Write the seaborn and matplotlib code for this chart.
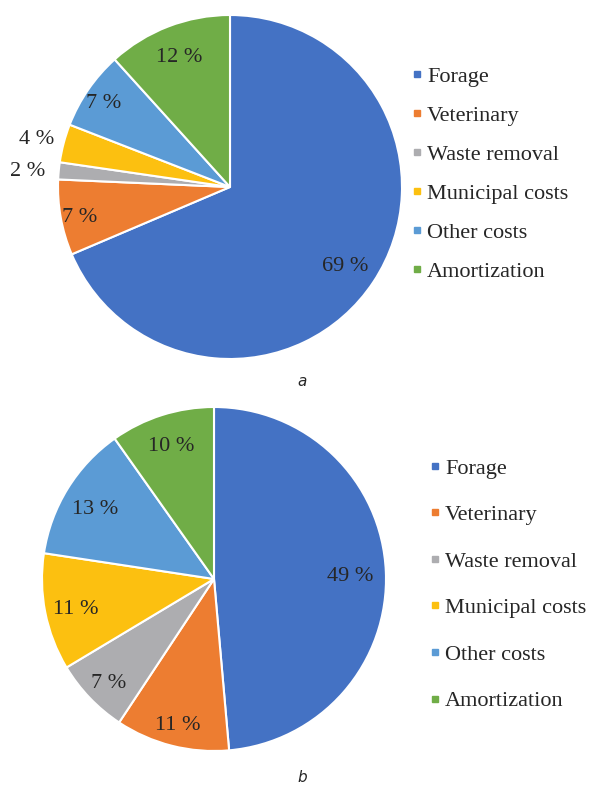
import numpy as np
import matplotlib.pyplot as plt
import seaborn as sns
from matplotlib.lines import Line2D

categories = ["Forage", "Veterinary", "Waste removal", "Municipal costs", "Other costs", "Amortization"]
shares_a = [68.6, 7.1, 1.6, 3.6, 7.4, 11.7]
shares_b = [48.6, 10.7, 7.1, 11.0, 12.8, 9.8]
panel_labels = ["a", "b"]

sns.set_theme(style="white")
plt.rcParams["font.family"] = ["Liberation Serif", "DejaVu Serif"]

colors = sns.color_palette(["#4472C4", "#ED7D31", "#ADADB0", "#FCC010", "#5B9BD5", "#70AD47"])
text_color = "#262626"

W, H = 590, 787
fig = plt.figure(figsize=(W / 100, H / 100), dpi=100)


def px_axes(cx, cy, r):
    return fig.add_axes([(cx - r) / W, 1 - (cy + r) / H, 2 * r / W, 2 * r / H])


def draw_pie(ax, shares, dists):
    wedges, _ = ax.pie(shares, colors=colors, startangle=90, counterclock=False,
                       wedgeprops=dict(edgecolor="white", linewidth=1.5))
    for w, v, d in zip(wedges, shares, dists):
        ang = np.deg2rad((w.theta1 + w.theta2) / 2)
        ax.annotate(f"{v:.0f} %", (d * np.cos(ang), d * np.sin(ang)), xytext=(0, -2.5),
                    textcoords="offset points", ha="center", va="center",
                    fontsize=16, color=text_color, annotation_clip=False)
    ax.set_xlim(-1, 1)
    ax.set_ylim(-1, 1)
    ax.axis("off")


def add_legend(x, y, spacing):
    handles = [Line2D([], [], marker="s", ls="none", color=c, markersize=5) for c in colors]
    fig.legend(handles, categories, loc="upper left", bbox_to_anchor=(x / W, 1 - y / H),
               frameon=False, fontsize=16, labelspacing=spacing, handlelength=0.5,
               handletextpad=0.2, borderpad=0, borderaxespad=0, labelcolor=text_color)


# top pie (a)
ax1 = px_axes(230, 187, 172)
draw_pie(ax1, shares_a, [0.80, 0.89, 1.18, 1.16, 0.89, 0.83])
add_legend(411.5, 66, 0.83)

# bottom pie (b)
ax2 = px_axes(214, 579, 172)
draw_pie(ax2, shares_b, [0.79, 0.86, 0.85, 0.82, 0.81, 0.83])
add_legend(429.5, 458, 1.17)

fig.text(302 / W, 1 - 382 / H, panel_labels[0], fontsize=11, style="italic",
         family="DejaVu Sans", ha="center", va="center", color=text_color)
fig.text(302 / W, 1 - 778 / H, panel_labels[1], fontsize=11, style="italic",
         family="DejaVu Sans", ha="center", va="center", color=text_color)

fig.savefig("out.png", dpi=100, facecolor="white")
